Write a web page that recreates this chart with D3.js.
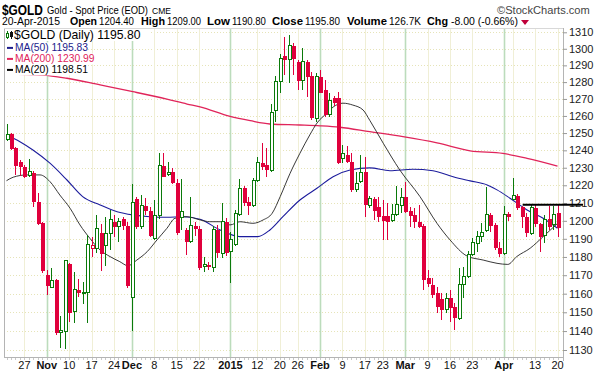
<!DOCTYPE html>
<html><head><meta charset="utf-8">
<script src="https://cdn.jsdelivr.net/npm/d3@7"></script>
<style>
html,body{margin:0;padding:0;background:#fff;}
svg{display:block;font-family:"Liberation Sans",Arial,sans-serif;}
</style></head><body>
<svg id="chart" width="595" height="373"></svg>
<script>
// ---------------- DATA ----------------
const dates = [
"2014-10-21","2014-10-22","2014-10-23","2014-10-24","2014-10-27","2014-10-28","2014-10-29","2014-10-30","2014-10-31",
"2014-11-03","2014-11-04","2014-11-05","2014-11-06","2014-11-07","2014-11-10","2014-11-11","2014-11-12","2014-11-13","2014-11-14",
"2014-11-17","2014-11-18","2014-11-19","2014-11-20","2014-11-21","2014-11-24","2014-11-25","2014-11-26","2014-11-28",
"2014-12-01","2014-12-02","2014-12-03","2014-12-04","2014-12-05","2014-12-08","2014-12-09","2014-12-10","2014-12-11","2014-12-12",
"2014-12-15","2014-12-16","2014-12-17","2014-12-18","2014-12-19","2014-12-22","2014-12-23","2014-12-24","2014-12-26",
"2014-12-29","2014-12-30","2014-12-31",
"2015-01-02","2015-01-05","2015-01-06","2015-01-07","2015-01-08","2015-01-09","2015-01-12","2015-01-13","2015-01-14","2015-01-15","2015-01-16",
"2015-01-20","2015-01-21","2015-01-22","2015-01-23","2015-01-26","2015-01-27","2015-01-28","2015-01-29","2015-01-30",
"2015-02-02","2015-02-03","2015-02-04","2015-02-05","2015-02-06","2015-02-09","2015-02-10","2015-02-11","2015-02-12","2015-02-13",
"2015-02-17","2015-02-18","2015-02-19","2015-02-20","2015-02-23","2015-02-24","2015-02-25","2015-02-26","2015-02-27",
"2015-03-02","2015-03-03","2015-03-04","2015-03-05","2015-03-06","2015-03-09","2015-03-10","2015-03-11","2015-03-12","2015-03-13",
"2015-03-16","2015-03-17","2015-03-18","2015-03-19","2015-03-20","2015-03-23","2015-03-24","2015-03-25","2015-03-26","2015-03-27",
"2015-03-30","2015-03-31","2015-04-01","2015-04-02","2015-04-06","2015-04-07","2015-04-08","2015-04-09","2015-04-10",
"2015-04-13","2015-04-14","2015-04-15","2015-04-16","2015-04-17","2015-04-20"];

const open = [1246.5,1249.3,1241.3,1233.5,1230.6,1225.3,1227.2,1210.7,1198.6,
1170.2,1163.6,1167.4,1139.3,1139.6,1176.1,1150.2,1162.0,1160.4,1160.8,
1184.8,1184.8,1193.4,1186.2,1193.1,1199.2,1197.1,1201.1,1197.3,
1158.1,1212.3,1196.7,1208.5,1205.5,1190.3,1202.9,1231.0,1225.9,1227.7,
1221.5,1201.6,1194.9,1188.4,1197.1,1195.5,1174.7,1175.6,1174.4,1194.9,1182.0,1199.3,
1182.9,1187.1,1203.3,1218.3,1210.7,1208.3,1222.5,1232.6,1231.4,1228.7,1263.1,
1280.2,1295.6,1293.6,1301.9,1292.2,1280.7,1292.2,1283.8,1258.6,
1283.2,1275.3,1260.6,1270.4,1270.4,1235.4,1237.3,1233.5,1217.4,1222.1,
1227.7,1208.7,1212.1,1207.5,1202.7,1202.5,1200.1,1203.3,1208.3,
1213.3,1205.5,1203.3,1199.2,1197.1,1168.4,1164.7,1160.5,1157.0,1151.6,
1157.5,1152.7,1146.8,1165.1,1169.2,1181.6,1187.5,1191.2,1194.5,1203.3,
1197.7,1184.8,1182.0,1203.8,1212.1,1214.0,1207.5,1202.3,1193.1,
1207.0,1198.2,1192.1,1200.9,1197.7,1204.4];
const high = [1255.3,1250.0,1242.0,1234.5,1231.5,1234.9,1228.0,1215.8,1199.2,
1172.9,1174.0,1168.0,1148.0,1178.5,1176.6,1172.0,1168.0,1166.5,1192.1,
1191.2,1203.3,1198.2,1202.3,1206.1,1203.3,1201.6,1202.0,1199.5,
1220.8,1213.5,1214.5,1212.7,1207.7,1211.7,1238.3,1238.6,1233.5,1229.7,
1223.7,1223.6,1196.0,1213.3,1199.3,1197.0,1180.2,1177.0,1197.1,1197.7,1210.2,1201.6,
1193.8,1206.0,1223.6,1219.5,1213.6,1224.0,1236.0,1244.1,1241.2,1267.2,1283.5,
1296.7,1307.3,1308.4,1303.5,1293.5,1300.2,1293.2,1286.2,1285.2,
1287.2,1281.3,1273.7,1271.8,1274.3,1243.1,1242.5,1238.3,1227.7,1237.3,
1236.4,1214.0,1213.5,1213.6,1211.7,1210.2,1209.3,1219.6,1218.3,
1222.1,1208.0,1207.3,1208.9,1198.2,1172.9,1168.4,1163.8,1160.2,1160.2,
1162.0,1155.0,1173.8,1174.7,1183.0,1190.3,1194.5,1198.6,1218.9,1204.5,
1198.6,1188.4,1208.3,1205.0,1224.0,1215.0,1208.5,1204.2,1208.9,
1208.9,1199.0,1203.3,1208.3,1208.3,1209.0];
const low = [1245.5,1240.2,1225.9,1225.3,1224.0,1224.6,1207.7,1197.5,1171.0,
1159.3,1162.9,1138.0,1131.1,1130.4,1145.0,1144.5,1158.0,1154.5,1144.5,
1180.2,1182.2,1172.5,1175.2,1183.8,1191.2,1188.4,1194.9,1162.9,
1140.2,1195.2,1195.5,1203.0,1191.2,1189.4,1201.0,1224.5,1225.0,1221.0,
1192.0,1194.9,1181.1,1187.5,1191.6,1173.0,1171.9,1173.0,1171.7,1179.4,1179.4,1180.5,
1165.8,1186.0,1202.5,1208.3,1203.3,1207.7,1222.0,1228.7,1224.9,1227.7,1256.3,
1273.3,1284.2,1279.2,1284.2,1275.3,1275.3,1271.3,1257.6,1256.6,
1273.3,1259.6,1259.6,1265.8,1232.2,1232.6,1232.9,1216.4,1216.4,1221.2,
1202.3,1207.0,1200.5,1199.5,1189.4,1189.4,1199.5,1202.7,1204.2,
1204.2,1196.7,1195.8,1195.9,1162.0,1163.8,1157.5,1149.5,1145.9,1149.5,
1145.0,1140.6,1145.9,1157.5,1168.3,1180.5,1182.9,1188.4,1194.0,1194.0,
1183.8,1180.2,1181.1,1200.0,1211.7,1206.0,1196.1,1191.2,1192.1,
1196.7,1182.9,1187.5,1194.9,1194.9,1190.8];
const close = [1248.9,1240.6,1231.2,1230.6,1224.7,1227.6,1210.7,1198.2,1172.5,
1164.3,1167.4,1138.8,1140.2,1177.8,1149.8,1162.0,1160.5,1160.9,1187.0,
1186.2,1195.8,1181.6,1193.1,1200.9,1196.7,1199.5,1197.3,1164.3,
1210.4,1196.7,1208.5,1205.5,1191.7,1202.9,1231.4,1224.9,1227.0,1221.5,
1193.1,1205.0,1188.4,1197.5,1195.5,1174.0,1176.1,1174.5,1195.3,1182.0,1199.5,1182.2,
1189.4,1204.2,1218.3,1210.2,1208.3,1223.0,1233.1,1230.3,1228.7,1262.0,1280.2,
1294.3,1293.2,1302.1,1293.6,1280.8,1292.2,1283.2,1258.6,1283.2,
1273.7,1260.6,1268.8,1267.4,1232.6,1238.3,1233.5,1217.4,1221.2,1227.4,
1208.9,1212.7,1205.7,1202.3,1200.1,1199.6,1203.3,1208.9,1213.3,
1205.1,1202.7,1199.5,1196.7,1167.4,1165.1,1159.3,1153.0,1151.3,1157.5,
1152.2,1146.8,1165.1,1169.2,1181.1,1187.9,1191.2,1193.4,1203.3,1197.1,
1184.8,1181.6,1203.3,1202.0,1214.0,1207.0,1202.0,1193.1,1207.5,
1198.2,1191.2,1200.9,1196.7,1203.8,1195.8];

// moving averages (position = trading-day index)
const ma200Idx = [0,8.1,13.5,20.9,28.2,35.8,40.3,43.2,49.9,54.4,58.8,65.5,70,74.4,81.1,88.5,96.1,103.5,110.8,116.2,123];
const ma200Val = [1284.8,1284.2,1282.3,1278.3,1274.3,1269.9,1267.0,1265.3,1259.7,1257.2,1255.3,1254.7,1254.2,1253.4,1250.8,1247.9,1244.3,1239.7,1238.2,1235.4,1230.99];
const ma50Idx = [0,3,5.9,9.7,13.5,17,20.9,24.7,28.2,32,35.8,39.4,43.2,47.7,52.1,56.1,58.8,61.7,65.5,69.3,72.9,76.7,81.1,85.6,90.7,95.2,99.7,103.5,107.3,109.5,112.4,116.2,119.8,123];
const ma50Val = [1248.9,1245.0,1240.2,1232.6,1223.0,1213.6,1208.9,1205.1,1203.3,1202.3,1202.0,1202.3,1200.9,1194.9,1191.2,1191.2,1194.9,1202.3,1211.7,1218.3,1224.9,1228.7,1229.9,1228.3,1229.1,1228.3,1224.9,1222.5,1220.2,1217.4,1212.7,1206.1,1201.4,1195.83];
const ma20Idx = [0,1.5,4.6,7.5,9.7,11.9,14.2,16.4,18.6,20.9,23.1,25.3,27.1,29.1,31.4,33.6,35.8,37.6,40.3,43.2,45.4,47.7,49.9,52.1,55,57.3,59.3,61.1,63.3,65.5,67.7,69.3,71.5,72.9,75.1,77.3,79.6,81.1,84.1,87.8,92.3,96.1,99,102.8,106.4,109.5,111.9,113.9,116.9,119.8,123];
const ma20Val = [1222.6,1224.6,1225.9,1225.9,1222.1,1214.5,1207.0,1197.7,1190.3,1183.8,1180.2,1177.4,1175.2,1178.3,1182.9,1189.4,1195.8,1201.4,1202.3,1200.5,1199.5,1199.5,1197.7,1199.5,1198.6,1200.5,1204.2,1213.6,1226.8,1238.3,1248.9,1255.8,1261.6,1265.2,1267.5,1266.4,1263.5,1257.4,1244.1,1228.7,1213.6,1198.6,1189.4,1180.5,1178.3,1176.5,1175.9,1180.2,1184.8,1191.2,1198.51];

const tickDates = ["2014-10-27","2014-11-03","2014-11-10","2014-11-17","2014-11-24","2014-12-01","2014-12-08","2014-12-15","2014-12-22",
"2015-01-02","2015-01-12","2015-01-20","2015-01-26","2015-02-02","2015-02-09","2015-02-17","2015-02-23",
"2015-03-02","2015-03-09","2015-03-16","2015-03-23","2015-04-01","2015-04-13","2015-04-20"];
const tickLabels = ["27","Nov","10","17","24","Dec","8","15","22","2015","12","20","26","Feb","9","17","23","Mar","9","16","23","Apr","13","20"];
const monthTicks = ["Nov","Dec","2015","Feb","Mar","Apr"];
const yTickValues = [1130,1140,1150,1160,1170,1180,1190,1200,1210,1220,1230,1240,1250,1260,1270,1280,1290,1300,1310];

const levelValue = 1209;
const levelStartDate = "2015-04-08";

const legendMA = [
  {label:"MA(50) 1195.83", color:"#1c1c8c"},
  {label:"MA(200) 1230.99", color:"#e0245a"},
  {label:"MA(20) 1198.51", color:"#000000"}];

// ---------------- CHART ----------------
const plot = {left:4, right:563, top:28, bottom:357};
const GREEN = "#0a7a0a", RED = "#e0003c";

const svg = d3.select("#chart");
const x = d3.scaleLinear().domain([0, dates.length-1]).range([6.5, 557.5]);
const y = d3.scaleLog().domain([1130, 1310]).range([350, 32.3]);
const idxOf = d => dates.indexOf(d);
const px = i => Math.round(x(i));

svg.append("rect").attr("x",plot.left).attr("y",plot.top).attr("width",plot.right-plot.left).attr("height",plot.bottom-plot.top).attr("fill","#fff");

// horizontal grid
svg.append("g").selectAll("line").data(yTickValues).join("line")
  .attr("x1",plot.left).attr("x2",plot.right)
  .attr("y1",d=>Math.round(y(d))+0.5).attr("y2",d=>Math.round(y(d))+0.5)
  .attr("stroke","#e6e4b8").attr("stroke-dasharray","1,2");

// vertical grid
const extraGrid = ["2015-04-06"];
svg.append("g").selectAll("line").data(tickDates.map((d,i)=>({d,lab:tickLabels[i]})).concat(extraGrid.map(d=>({d,lab:""}))))
  .join("line")
  .attr("x1",d=>px(idxOf(d.d))+0.5).attr("x2",d=>px(idxOf(d.d))+0.5)
  .attr("y1",plot.top).attr("y2",plot.bottom)
  .attr("stroke",d=>monthTicks.includes(d.lab)?"#bcdcbc":"#f0efd6")
  .attr("stroke-width",d=>monthTicks.includes(d.lab)?1.6:1);

// frame
svg.append("line").attr("x1",plot.left+0.5).attr("x2",plot.left+0.5).attr("y1",plot.top).attr("y2",plot.bottom).attr("stroke","#b4b4b4");
svg.append("line").attr("x1",plot.left).attr("x2",plot.right).attr("y1",plot.bottom+0.5).attr("y2",plot.bottom+0.5).attr("stroke","#b4b4b4");
svg.append("line").attr("x1",plot.left).attr("x2",plot.right).attr("y1",plot.top+0.5).attr("y2",plot.top+0.5).attr("stroke","#d8d8d8");
svg.append("line").attr("x1",plot.right+0.5).attr("x2",plot.right+0.5).attr("y1",plot.top).attr("y2",plot.bottom+4).attr("stroke","#b4b4b4");

// day ticks along the bottom
svg.append("g").selectAll("line").data(dates).join("line")
  .attr("x1",(d,i)=>px(i)+0.5).attr("x2",(d,i)=>px(i)+0.5)
  .attr("y1",plot.bottom+1).attr("y2",plot.bottom+3).attr("stroke","#c8c8c8");

// y axis (right)
const yAxis = d3.axisRight(y).tickValues(yTickValues).tickFormat(d3.format("d")).tickSize(4).tickPadding(2);
const ya = svg.append("g").attr("transform",`translate(${plot.right},0)`).call(yAxis);
ya.select(".domain").remove();
ya.selectAll(".tick line").attr("stroke","#999");
ya.selectAll(".tick text").attr("font-size","11px").attr("fill","#222").attr("font-family","Liberation Sans, Arial, sans-serif");

// x labels
svg.append("g").selectAll("text").data(tickDates.map((d,i)=>({d,lab:tickLabels[i]}))).join("text")
  .attr("x",d=>x(idxOf(d.d))).attr("y",369).attr("text-anchor","middle")
  .attr("font-size","11px")
  .attr("font-weight",d=>monthTicks.includes(d.lab)?"bold":"normal")
  .attr("fill","#111").text(d=>d.lab);

// moving averages
const line = d3.line().x(d=>x(d[0])).y(d=>y(d[1])).curve(d3.curveMonotoneX);
const maG = svg.append("g").attr("fill","none");
maG.append("path").datum(ma200Idx.map((v,i)=>[v,ma200Val[i]])).attr("d",line).attr("stroke","#e0245a").attr("stroke-width",1.3);
maG.append("path").datum(ma50Idx.map((v,i)=>[v,ma50Val[i]])).attr("d",line).attr("stroke","#1c1c9c").attr("stroke-width",1.1);
maG.append("path").datum(ma20Idx.map((v,i)=>[v,ma20Val[i]])).attr("d",line).attr("stroke","#222").attr("stroke-width",0.9);

// candles
const candles = dates.map((d,i)=>{
  const prev = i>0 ? close[i-1] : open[i];
  const col = close[i] >= prev ? GREEN : RED;
  return {i, o:open[i], h:high[i], l:low[i], c:close[i], col, hollow: close[i] > open[i]};
});
const cg = svg.append("g").attr("shape-rendering","crispEdges");
cg.selectAll("line").data(candles).join("line")
  .attr("x1",d=>px(d.i)+0.5).attr("x2",d=>px(d.i)+0.5)
  .attr("y1",d=>y(d.h)).attr("y2",d=>y(d.l)).attr("stroke",d=>d.col);
cg.selectAll("rect").data(candles).join("rect")
  .attr("x",d=>d.hollow ? px(d.i)-0.5 : px(d.i)-1)
  .attr("width",d=>d.hollow?3:4)
  .attr("y",d=>y(Math.max(d.o,d.c)))
  .attr("height",d=>Math.max(1,Math.abs(y(d.o)-y(d.c))))
  .attr("fill",d=>d.hollow?"#fff":d.col)
  .attr("stroke",d=>d.hollow?d.col:"none");

// horizontal level line
svg.append("line").attr("x1",x(idxOf(levelStartDate))+1).attr("x2",583)
  .attr("y1",y(levelValue)).attr("y2",y(levelValue)).attr("stroke","#000").attr("stroke-width",2.2);

// legend
const lg = svg.append("g");
lg.append("rect").attr("x",5).attr("y",29).attr("width",145).attr("height",12).attr("fill","#fff");
const iconG = lg.append("g").attr("shape-rendering","crispEdges");
iconG.append("line").attr("x1",7.5).attr("x2",7.5).attr("y1",31).attr("y2",39).attr("stroke",GREEN);
iconG.append("rect").attr("x",6.5).attr("y",33.5).attr("width",2).attr("height",4).attr("fill","#fff").attr("stroke",GREEN);
iconG.append("line").attr("x1",11.5).attr("x2",11.5).attr("y1",31).attr("y2",39).attr("stroke","#111");
iconG.append("rect").attr("x",10).attr("y",32).attr("width",3).attr("height",5).attr("fill","#111");
lg.append("text").attr("x",14).attr("y",38.8).attr("font-size","12.2px").attr("fill","#000").text("$GOLD (Daily) 1195.80");
legendMA.forEach((m,k)=>{
  const by = 51.4 + k*11;
  lg.append("rect").attr("x",5).attr("y",by-9).attr("width",82+(k===1?6:0)).attr("height",11).attr("fill","#fff");
  lg.append("line").attr("x1",7).attr("x2",13).attr("y1",by-3.5).attr("y2",by-3.5).attr("stroke",m.color).attr("stroke-width",2);
  lg.append("text").attr("x",15).attr("y",by).attr("font-size","10.3px").attr("fill",m.color).text(m.label);
});

// header (texts horizontally scaled to the narrow face of the original)
const hd = svg.append("g");
function htext(str, x0, yb, w, size, weight, fill){
  const g = hd.append("g");
  const t = g.append("text").attr("x",0).attr("y",0).attr("font-size",size+"px")
    .attr("font-weight",weight||"normal").attr("fill",fill||"#000").text(str);
  const len = t.node().getComputedTextLength();
  g.attr("transform",`translate(${x0},${yb}) scale(${w/len},1)`);
}
htext("$GOLD", 2, 14.5, 41, 15, "bold");
htext("Gold - Spot Price (EOD)", 47, 14, 101, 11.5);
htext("CME", 152, 14, 19, 9);
htext("\u00A9StockCharts.com", 497, 13.5, 93, 11, "normal", "#444");
const r2 = 25.2, r2s = 10.3;
htext("20-Apr-2015", 2, r2, 58, r2s);
htext("Open", 70, r2, 27, r2s, "bold");
htext("1204.40", 99, r2, 35, r2s);
htext("High", 141, r2, 24, r2s, "bold");
htext("1209.00", 167, r2, 34, r2s);
htext("Low", 207, r2, 23, r2s, "bold");
htext("1190.80", 232, r2, 34, r2s);
htext("Close", 272, r2, 31, r2s, "bold");
htext("1195.80", 305, r2, 35, r2s);
htext("Volume", 347, r2, 40, r2s, "bold");
htext("126.7K", 389, r2, 32, r2s);
htext("Chg", 427, r2, 21, r2s, "bold");
htext("-8.00 (-0.66%)", 451, r2, 67, r2s);
svg.append("path").attr("d","M521,20 L529,20 L525,25 Z").attr("fill","#c0003a");
</script>
</body></html>
